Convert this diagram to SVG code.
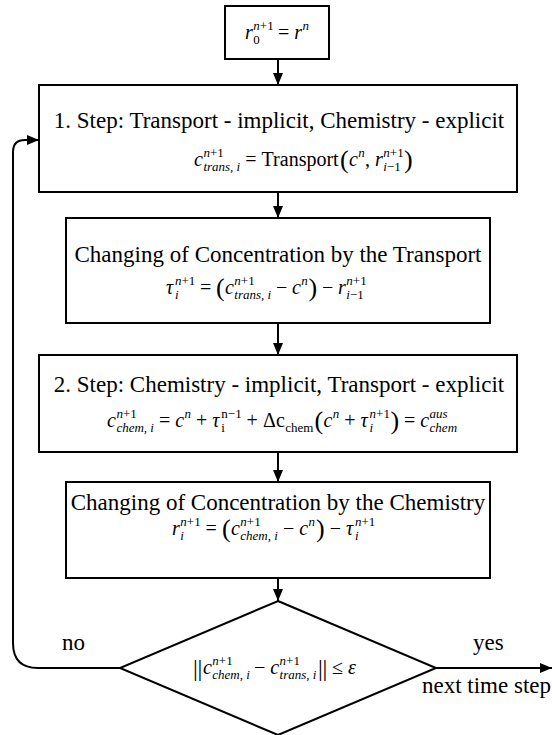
<svg xmlns="http://www.w3.org/2000/svg" width="552" height="735" viewBox="0 0 552 735">
<style>
.box{fill:#fff;stroke:#000;stroke-width:2}
.ln{fill:none;stroke:#000;stroke-width:2}
.t{font-family:"Liberation Serif","Times New Roman",serif;font-size:23px;fill:#000}
.m{font-family:"Liberation Serif","Times New Roman",serif;font-size:20px;fill:#000}
.i{font-style:italic}
.s{font-size:13px}
.p{font-size:26px}
.b{font-size:24px}
</style>
<defs>
<marker id="ah" markerUnits="userSpaceOnUse" markerWidth="12" markerHeight="10" refX="12" refY="5" orient="auto">
<path d="M0,0 L12,5 L0,10 z" fill="#000"/>
</marker>
</defs>
<rect width="552" height="735" fill="#fff"/>
<g id="connectors">
<line class="ln" x1="278" y1="59" x2="278" y2="85" marker-end="url(#ah)"/>
<line class="ln" x1="278" y1="192" x2="278" y2="218" marker-end="url(#ah)"/>
<line class="ln" x1="278" y1="323" x2="278" y2="355" marker-end="url(#ah)"/>
<line class="ln" x1="278" y1="452" x2="278" y2="482" marker-end="url(#ah)"/>
<line class="ln" x1="278" y1="578" x2="278" y2="601" marker-end="url(#ah)"/>
<line class="ln" x1="436" y1="668" x2="552" y2="668" marker-end="url(#ah)"/>
<path class="ln" d="M120,668 H38 Q13,668 13,643 V152 Q13,140 25,140 H39" marker-end="url(#ah)"/>
</g>
<g id="start">
<rect class="box" x="225" y="6" width="104" height="53"/>
<text class="m"><tspan x="245" y="39" class="i">r</tspan><tspan x="253.3" y="30" class="s"><tspan class="i">n</tspan>+1</tspan><tspan x="253.3" y="44" class="s">0</tspan><tspan x="278" y="39">=</tspan><tspan x="294.3" y="39" class="i">r</tspan><tspan x="302.6" y="30" class="s i">n</tspan></text>
</g>
<g id="step1">
<rect class="box" x="39" y="85" width="478" height="107"/>
<text class="t" x="279" y="128" text-anchor="middle">1. Step: Transport - implicit, Chemistry - explicit</text>
<text class="m"><tspan x="194" y="166" class="i">c</tspan><tspan x="203.4" y="157" class="s"><tspan class="i">n</tspan>+1</tspan><tspan x="203.4" y="171" class="s i">trans, i</tspan><tspan x="245.3" y="166">=</tspan><tspan x="261.6" y="166">Transport</tspan><tspan x="340" y="168" class="p">(</tspan><tspan x="349" y="166" class="i">c</tspan><tspan x="358.3" y="157" class="s i">n</tspan><tspan x="365" y="166">,</tspan><tspan x="375" y="166" class="i">r</tspan><tspan x="383.3" y="157" class="s"><tspan class="i">n</tspan>+1</tspan><tspan x="383.3" y="171" class="s"><tspan class="i">i</tspan>−1</tspan><tspan x="404" y="168" class="p">)</tspan></text>
</g>
<g id="transport-change">
<rect class="box" x="66" y="218" width="424" height="105"/>
<text class="t" x="278" y="262" text-anchor="middle">Changing of Concentration by the Transport</text>
<text class="m"><tspan x="166" y="294" class="i">τ</tspan><tspan x="175" y="285" class="s"><tspan class="i">n</tspan>+1</tspan><tspan x="175" y="299" class="s i">i</tspan><tspan x="200" y="294">=</tspan><tspan x="216" y="296" class="p">(</tspan><tspan x="225" y="294" class="i">c</tspan><tspan x="234.3" y="285" class="s"><tspan class="i">n</tspan>+1</tspan><tspan x="234.3" y="299" class="s i">trans, i</tspan><tspan x="276" y="294">−</tspan><tspan x="292" y="294" class="i">c</tspan><tspan x="301.3" y="285" class="s i">n</tspan><tspan x="308.5" y="296" class="p">)</tspan><tspan x="322" y="294">−</tspan><tspan x="338" y="294" class="i">r</tspan><tspan x="346.3" y="285" class="s"><tspan class="i">n</tspan>+1</tspan><tspan x="346.3" y="299" class="s"><tspan class="i">i</tspan>−1</tspan></text>
</g>
<g id="step2">
<rect class="box" x="39" y="355" width="478" height="97"/>
<text class="t" x="279" y="392" text-anchor="middle">2. Step: Chemistry - implicit, Transport - explicit</text>
<text class="m"><tspan x="107" y="427" class="i">c</tspan><tspan x="116.4" y="418" class="s"><tspan class="i">n</tspan>+1</tspan><tspan x="116.4" y="432" class="s i">chem, i</tspan><tspan x="159" y="427">=</tspan><tspan x="175.3" y="427" class="i">c</tspan><tspan x="184.6" y="418" class="s i">n</tspan><tspan x="196" y="427">+</tspan><tspan x="212.3" y="427" class="i">τ</tspan><tspan x="221.3" y="418" class="s">n−1</tspan><tspan x="221.3" y="432" class="s">i</tspan><tspan x="246.6" y="427">+</tspan><tspan x="263" y="427">Δ</tspan><tspan x="276" y="427">c</tspan><tspan x="285.3" y="432" class="s">chem</tspan><tspan x="314.5" y="429" class="p">(</tspan><tspan x="323.5" y="427" class="i">c</tspan><tspan x="332.8" y="418" class="s i">n</tspan><tspan x="344.3" y="427">+</tspan><tspan x="360.6" y="427" class="i">τ</tspan><tspan x="369.6" y="418" class="s"><tspan class="i">n</tspan>+1</tspan><tspan x="369.6" y="432" class="s i">i</tspan><tspan x="390.5" y="429" class="p">)</tspan><tspan x="404" y="427">=</tspan><tspan x="420.3" y="427" class="i">c</tspan><tspan x="429.6" y="418" class="s i">aus</tspan><tspan x="429.6" y="432" class="s i">chem</tspan></text>
</g>
<g id="chemistry-change">
<rect class="box" x="66" y="482" width="424" height="96"/>
<text class="t" x="278" y="510" text-anchor="middle">Changing of Concentration by the Chemistry</text>
<text class="m"><tspan x="172" y="535" class="i">r</tspan><tspan x="180.3" y="526" class="s"><tspan class="i">n</tspan>+1</tspan><tspan x="180.3" y="540" class="s i">i</tspan><tspan x="205.6" y="535">=</tspan><tspan x="222" y="537" class="p">(</tspan><tspan x="231" y="535" class="i">c</tspan><tspan x="240.3" y="526" class="s"><tspan class="i">n</tspan>+1</tspan><tspan x="240.3" y="540" class="s i">chem, i</tspan><tspan x="283" y="535">−</tspan><tspan x="299.3" y="535" class="i">c</tspan><tspan x="308.6" y="526" class="s i">n</tspan><tspan x="316" y="537" class="p">)</tspan><tspan x="329.7" y="535">−</tspan><tspan x="346" y="535" class="i">τ</tspan><tspan x="355" y="526" class="s"><tspan class="i">n</tspan>+1</tspan><tspan x="355" y="540" class="s i">i</tspan></text>
</g>
<g id="check">
<polygon class="box" points="278,601 436,668 278,735 120,668"/>
<text class="m"><tspan x="193" y="676" class="b">|</tspan><tspan x="197.5" y="676" class="b">|</tspan><tspan x="203" y="674" class="i">c</tspan><tspan x="212.3" y="665" class="s"><tspan class="i">n</tspan>+1</tspan><tspan x="212.3" y="679" class="s i">chem, i</tspan><tspan x="254" y="674">−</tspan><tspan x="270.3" y="674" class="i">c</tspan><tspan x="279.6" y="665" class="s"><tspan class="i">n</tspan>+1</tspan><tspan x="279.6" y="679" class="s i">trans, i</tspan><tspan x="318" y="676" class="b">|</tspan><tspan x="322.5" y="676" class="b">|</tspan><tspan x="332" y="674">≤</tspan><tspan x="348" y="674" class="i">ε</tspan></text>
</g>
<g id="labels">
<text class="t" x="62" y="650">no</text>
<text class="t" x="473" y="650">yes</text>
<text class="t" x="551" y="693" text-anchor="end">next time step</text>
</g>
</svg>
